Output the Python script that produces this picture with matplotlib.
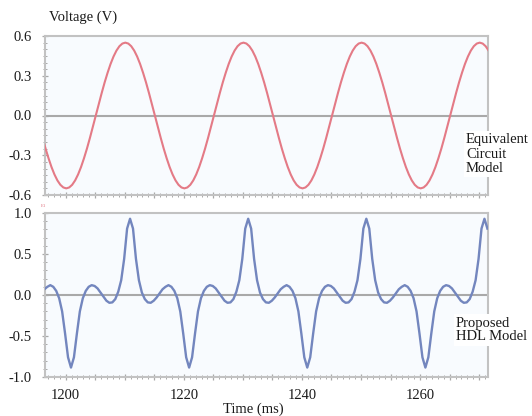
import numpy as np
import matplotlib
matplotlib.use('Agg')
import matplotlib.pyplot as plt
from matplotlib.ticker import MultipleLocator, FuncFormatter

plt.rcParams['font.family'] = ['Liberation Serif', 'DejaVu Serif']

# ---------------- data ----------------
eq_start_ms = 1196.1
hdl_start_ms = 1196.4
sample_step_ms = 0.5

equivalent_circuit_v = [
    -0.170, -0.250, -0.323, -0.389, -0.445, -0.490, -0.523, -0.543,
    -0.550, -0.543, -0.523, -0.490, -0.445, -0.389, -0.323, -0.250, -0.170, -0.086,
    0.000, 0.086, 0.170, 0.250, 0.323, 0.389, 0.445, 0.490, 0.523, 0.543,
    0.550, 0.543, 0.523, 0.490, 0.445, 0.389, 0.323, 0.250, 0.170, 0.086,
    0.000, -0.086, -0.170, -0.250, -0.323, -0.389, -0.445, -0.490, -0.523, -0.543,
    -0.550, -0.543, -0.523, -0.490, -0.445, -0.389, -0.323, -0.250, -0.170, -0.086,
    0.000, 0.086, 0.170, 0.250, 0.323, 0.389, 0.445, 0.490, 0.523, 0.543,
    0.550, 0.543, 0.523, 0.490, 0.445, 0.389, 0.323, 0.250, 0.170, 0.086,
    0.000, -0.086, -0.170, -0.250, -0.323, -0.389, -0.445, -0.490, -0.523, -0.543,
    -0.550, -0.543, -0.523, -0.490, -0.445, -0.389, -0.323, -0.250, -0.170, -0.086,
    0.000, 0.086, 0.170, 0.250, 0.323, 0.389, 0.445, 0.490, 0.523, 0.543,
    0.550, 0.543, 0.523, 0.490, 0.445, 0.389, 0.323, 0.250, 0.170, 0.086,
    0.000, -0.086, -0.170, -0.250, -0.323, -0.389, -0.445, -0.490, -0.523, -0.543,
    -0.550, -0.543, -0.523, -0.490, -0.445, -0.389, -0.323, -0.250, -0.170, -0.086,
    0.000, 0.086, 0.170, 0.250, 0.323, 0.389, 0.445, 0.490, 0.523, 0.543,
    0.550, 0.543, 0.523, 0.490,
]

hdl_model_v = [
    0.07, 0.10, 0.12, 0.10, 0.05, -0.04, -0.20, -0.47, -0.76,
    -0.885, -0.76, -0.47, -0.20, -0.04, 0.05, 0.10, 0.12, 0.11, 0.08,
    0.03, -0.02, -0.07, -0.095, -0.09, -0.05, 0.04, 0.18, 0.44, 0.81,
    0.93, 0.81, 0.44, 0.18, 0.03, -0.05, -0.09, -0.095, -0.07, -0.03,
    0.02, 0.07, 0.10, 0.12, 0.10, 0.05, -0.04, -0.20, -0.47, -0.76,
    -0.885, -0.76, -0.47, -0.20, -0.04, 0.05, 0.10, 0.12, 0.11, 0.08,
    0.03, -0.02, -0.07, -0.095, -0.09, -0.05, 0.04, 0.18, 0.44, 0.81,
    0.93, 0.81, 0.44, 0.18, 0.03, -0.05, -0.09, -0.095, -0.07, -0.03,
    0.02, 0.07, 0.10, 0.12, 0.10, 0.05, -0.04, -0.20, -0.47, -0.76,
    -0.885, -0.76, -0.47, -0.20, -0.04, 0.05, 0.10, 0.12, 0.11, 0.08,
    0.03, -0.02, -0.07, -0.095, -0.09, -0.05, 0.04, 0.18, 0.44, 0.81,
    0.93, 0.81, 0.44, 0.18, 0.03, -0.05, -0.09, -0.095, -0.07, -0.03,
    0.02, 0.07, 0.10, 0.12, 0.10, 0.05, -0.04, -0.20, -0.47, -0.76,
    -0.885, -0.76, -0.47, -0.20, -0.04, 0.05, 0.10, 0.12, 0.11, 0.08,
    0.03, -0.02, -0.07, -0.095, -0.09, -0.05, 0.04, 0.18, 0.44, 0.81,
    0.93, 0.81,
]

x_range_ms = (1196.5, 1271.5)
x_tick_labels = [1200, 1220, 1240, 1260]
top_y_ticks = [-0.6, -0.3, 0.0, 0.3, 0.6]
bottom_y_ticks = [-1.0, -0.5, 0.0, 0.5, 1.0]

eq_t = eq_start_ms + sample_step_ms * np.arange(len(equivalent_circuit_v))
hdl_t = hdl_start_ms + sample_step_ms * np.arange(len(hdl_model_v))

# ---------------- figure ----------------
W, H = 532, 416
fig = plt.figure(figsize=(W / 100, H / 100), dpi=100)
fig.patch.set_facecolor('white')

ax1 = fig.add_axes([45 / W, 1 - 195 / H, 443 / W, 159 / H])
ax2 = fig.add_axes([45 / W, 1 - 377 / H, 443 / W, 164 / H])

spine_c = '#c2c2c2'
tick_c = '#a8a8a8'

for ax in (ax1, ax2):
    ax.set_facecolor('#f8fbfe')
    for s in ax.spines.values():
        s.set_color(spine_c)
        s.set_linewidth(1.5)
    ax.set_xlim(*x_range_ms)
    ax.xaxis.set_major_locator(MultipleLocator(5))
    ax.xaxis.set_minor_locator(MultipleLocator(1))
    ax.tick_params(axis='both', which='major', direction='inout', length=5,
                   width=0.9, color=tick_c, labelsize=10.5, labelcolor='#1a1a1a')
    ax.tick_params(axis='both', which='minor', direction='inout', length=3,
                   width=0.7, color=tick_c)
    ax.tick_params(axis='y', pad=7)
    ax.tick_params(axis='x', pad=6)
    ax.tick_params(top=False, right=False, which='both')
    ax.axhline(0, color='#a9a9a9', lw=1.5, zorder=1)

fmt_x = FuncFormatter(lambda v, p: f"{int(round(v))}" if int(round(v)) in x_tick_labels else "")
ax2.xaxis.set_major_formatter(fmt_x)
ax1.xaxis.set_major_formatter(FuncFormatter(lambda v, p: ""))

ax1.set_ylim(-0.6, 0.6)
ax1.set_yticks(top_y_ticks)
ax1.yaxis.set_minor_locator(MultipleLocator(0.05))
ax1.yaxis.set_major_formatter(FuncFormatter(lambda v, p: f"{v:.1f}" if abs(v) > 1e-9 else "0.0"))

ax2.set_ylim(-1.0, 1.0)
ax2.set_yticks(bottom_y_ticks)
ax2.yaxis.set_minor_locator(MultipleLocator(0.1))
ax2.yaxis.set_major_formatter(FuncFormatter(lambda v, p: f"{v:.1f}" if abs(v) > 1e-9 else "0.0"))

ax1.plot(eq_t, equivalent_circuit_v, color='#e47a86', lw=1.5, zorder=3)
ax2.plot(hdl_t, hdl_model_v, color='#7386be', lw=1.7, zorder=3)

fig.text(49 / W, 1 - 17 / H, "Voltage (V)", fontsize=10.5, ha='left', va='center', color='#1a1a1a')
fig.text(253 / W, 1 - 409 / H, "Time (ms)", fontsize=10.5, ha='center', va='center', color='#1a1a1a')
fig.text(41 / W, 1 - 206 / H, "E1", fontsize=3.5, ha='left', va='center', color='#e27b86')

fig.text(466 / W, 1 - 154 / H, "Equivalent\nCircuit\nModel", fontsize=10.5, ha='left', va='center',
         color='#1a1a1a', linespacing=1.1,
         bbox=dict(facecolor='white', edgecolor='none', pad=1.5))
fig.text(456 / W, 1 - 330 / H, "Proposed\nHDL Model", fontsize=10.5, ha='left', va='center',
         color='#1a1a1a', linespacing=1.1,
         bbox=dict(facecolor='white', edgecolor='none', pad=1.5))

fig.savefig('out.png', dpi=100, facecolor='white')
